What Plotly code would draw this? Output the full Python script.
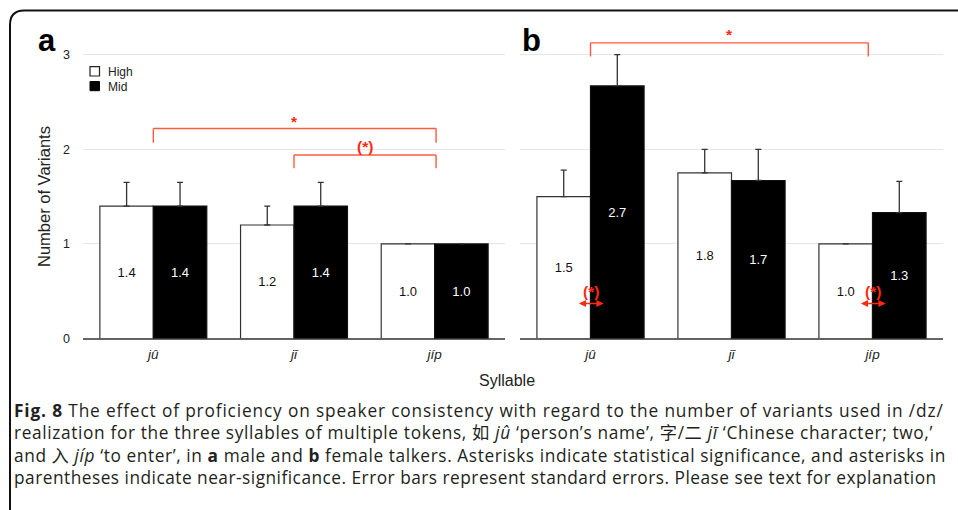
import plotly.graph_objects as go

W, H = 958, 510

# ---------------- data ----------------
syllables = ["jû", "jī", "jíp"]
syllable_labels = ["<i>jû</i>", "<i>jī</i>", "<i>jíp</i>"]
groups = ["High", "Mid"]

# panel a (male talkers)
a_high = [1.4, 1.2, 1.0]
a_mid = [1.4, 1.4, 1.0]
a_high_err = [0.25, 0.2, None]
a_mid_err = [0.25, 0.25, None]

# panel b (female talkers)
b_high = [1.5, 1.75, 1.0]
b_mid = [2.67, 1.67, 1.33]
b_high_err = [0.28, 0.25, None]
b_mid_err = [0.33, 0.33, 0.33]

y_ticks = [0, 1, 2, 3]

# significance brackets: (axis suffix, x_start, x_end, y_top, y_leg_bottom, label, label_y)
brackets = [
    ("", 0.0, 2.01, 2.22, 2.07, "*", 2.29),
    ("", 1.0, 2.01, 1.94, 1.80, "(*)", 2.03),
    ("2", 0.0, 1.97, 3.125, 2.98, "*", 3.21),
]
# within-syllable near-significance arrows in panel b: (category index, y)
pair_arrows = [(0, 0.37), (2, 0.37)]

caption_lines = [
    "<b>Fig. 8</b> The effect of proficiency on speaker consistency with regard to the number of variants used in /dz/",
    "realization for the three syllables of multiple tokens, 如 <i>jû</i> ‘person’s name’, 字/二 <i>jī</i> ‘Chinese character; two,’",
    "and 入 <i>jíp</i> ‘to enter’, in <b>a</b> male and <b>b</b> female talkers. Asterisks indicate statistical significance, and asterisks in",
    "parentheses indicate near-significance. Error bars represent standard errors. Please see text for explanation",
]
caption_letter_spacing = [0.85, 0.64, 0.59, 0.49]

# ---------------- helpers ----------------
def px(x):
    return x / W

def py(y):
    return 1 - y / H

FONT = "Liberation Sans, Arial, sans-serif"
TXT = "#222222"
RED_LINE = "#ff5a40"
RED_TXT = "#ff2a14"

y_bottom = 338.5
unit = 94.6
y_max = 3.15

def data_to_py(v):
    return py(y_bottom - v * unit)

fig = go.Figure()

def add_bars(xa, ya, high, mid, herr, merr):
    fig.add_trace(go.Bar(
        x=syllable_labels, y=high, name="High", xaxis=xa, yaxis=ya,
        marker=dict(color="white", line=dict(color="#333333", width=1.2)),
        error_y=dict(type="data", symmetric=False, array=herr,
                     arrayminus=[0] * len(herr), color="#333333", thickness=1.3, width=3),
        texttemplate="%{y:.1f}", textposition="inside", insidetextanchor="middle",
        textangle=0, constraintext="none",
        textfont=dict(color="#111111", size=13, family=FONT),
        showlegend=False, hoverinfo="skip",
    ))
    fig.add_trace(go.Bar(
        x=syllable_labels, y=mid, name="Mid", xaxis=xa, yaxis=ya,
        marker=dict(color="black", line=dict(color="#111111", width=1.2)),
        error_y=dict(type="data", symmetric=False, array=merr,
                     arrayminus=[0] * len(merr), color="#333333", thickness=1.3, width=3),
        texttemplate="%{y:.1f}", textposition="inside", insidetextanchor="middle",
        textangle=0, constraintext="none",
        textfont=dict(color="white", size=13, family=FONT),
        showlegend=False, hoverinfo="skip",
    ))

add_bars("x", "y", a_high, a_mid, a_high_err, a_mid_err)
add_bars("x2", "y2", b_high, b_mid, b_high_err, b_mid_err)

y_dom = [py(y_bottom), py(y_bottom - y_max * unit)]

common_y = dict(
    range=[0, y_max], tickvals=y_ticks, showgrid=True, gridcolor="#e6e6e6", gridwidth=1,
    zeroline=True, zerolinecolor="#666666", zerolinewidth=1.5, showline=False,
    ticks="", domain=y_dom, fixedrange=True, automargin=False,
    tickfont=dict(size=12.5, color=TXT, family=FONT),
)
common_x = dict(
    showgrid=False, zeroline=False, showline=False, ticks="",
    tickfont=dict(size=13.5, color=TXT, family=FONT), fixedrange=True,
    ticklabelstandoff=6, automargin=False,
)

fig.update_layout(
    width=W, height=H, margin=dict(l=0, r=0, t=0, b=0, pad=0, autoexpand=False),
    autosize=False,
    paper_bgcolor="white", plot_bgcolor="white",
    barmode="group", bargap=0.24, bargroupgap=0,
    font=dict(family=FONT, color=TXT),
    xaxis=dict(domain=[px(83), px(505)], anchor="y", **common_x),
    xaxis2=dict(domain=[px(520), px(943)], anchor="y2", **common_x),
    yaxis=dict(anchor="x", showticklabels=True, ticklabelstandoff=12, **common_y),
    yaxis2=dict(anchor="x2", showticklabels=False, **common_y),
)

shapes = []
annotations = []

# outer rounded frame
frame_path = (
    f"M {px(10)},{py(540)} L {px(10)},{py(25)} "
    f"Q {px(10)},{py(10.5)} {px(24)},{py(10.5)} L {px(980)},{py(10.5)}"
)
shapes.append(dict(type="path", path=frame_path, xref="paper", yref="paper",
                   line=dict(color="#111111", width=2)))

# brackets
for sfx, x0, x1, ytop, ybot, lab, laby in brackets:
    xr, yr = "x" + sfx, "y" + sfx
    for (xa0, ya0, xa1, ya1) in [(x0, ybot, x0, ytop), (x0, ytop, x1, ytop), (x1, ytop, x1, ybot)]:
        shapes.append(dict(type="line", xref=xr, yref=yr, x0=xa0, y0=ya0, x1=xa1, y1=ya1,
                           line=dict(color=RED_LINE, width=1.4), layer="above"))
    annotations.append(dict(xref=xr, yref="paper", x=(x0 + x1) / 2, y=data_to_py(laby),
                            xanchor="center", yanchor="middle",
                            text=f"<b>{lab}</b>", showarrow=False,
                            font=dict(color=RED_TXT, size=15.5, family=FONT)))

# double arrows in panel b
for idx, yv in pair_arrows:
    annotations.append(dict(xref="x2", yref="y2", x=idx + 0.093, y=yv,
                            axref="x2", ayref="y2", ax=idx - 0.093, ay=yv,
                            showarrow=True, arrowside="end+start", arrowhead=2,
                            arrowsize=0.9, arrowwidth=1.6, arrowcolor=RED_TXT,
                            standoff=0, startstandoff=0, text=""))
    annotations.append(dict(xref="x2", yref="y2", x=idx, y=yv + 0.13, text="<b>(*)</b>",
                            xanchor="center", yanchor="middle",
                            showarrow=False, font=dict(color=RED_TXT, size=15.5, family=FONT)))

# legend (manual)
shapes.append(dict(type="rect", xref="paper", yref="paper", x0=px(90), x1=px(99.5),
                   y0=py(76), y1=py(66.7), fillcolor="white",
                   line=dict(color="#222222", width=1.2)))
shapes.append(dict(type="rect", xref="paper", yref="paper", x0=px(90), x1=px(99.5),
                   y0=py(90.7), y1=py(81.5), fillcolor="black",
                   line=dict(color="black", width=1)))
annotations.append(dict(xref="paper", yref="paper", x=px(106), y=py(71.7), text="High",
                        xanchor="left", yanchor="middle", showarrow=False,
                        font=dict(size=12, color=TXT, family=FONT)))
annotations.append(dict(xref="paper", yref="paper", x=px(106), y=py(86.5), text="Mid",
                        xanchor="left", yanchor="middle", showarrow=False,
                        font=dict(size=12, color=TXT, family=FONT)))

# panel letters
annotations.append(dict(xref="paper", yref="paper", x=px(36), y=py(52), text="<b>a</b>",
                        xanchor="left", yanchor="bottom", showarrow=False, yshift=-8,
                        font=dict(size=31, color="black", family=FONT)))
annotations.append(dict(xref="paper", yref="paper", x=px(520), y=py(52), text="<b>b</b>",
                        xanchor="left", yanchor="bottom", showarrow=False, yshift=-8,
                        font=dict(size=31, color="black", family=FONT)))

# axis titles
annotations.append(dict(xref="paper", yref="paper", x=px(44), y=py(197),
                        text="Number of Variants", textangle=-90, showarrow=False,
                        xanchor="center", yanchor="middle",
                        font=dict(size=16.5, color=TXT, family=FONT)))
annotations.append(dict(xref="paper", yref="paper", x=px(507), y=py(380),
                        text="Syllable", showarrow=False, xanchor="center", yanchor="middle",
                        font=dict(size=16, color=TXT, family=FONT)))

# caption (single multi-line text block)
CAP_FONT = "Open Sans, Noto Sans CJK SC, sans-serif"
caption_text = "<br>".join(
    f'<span style="letter-spacing:{ls}px">{t}</span>'
    for t, ls in zip(caption_lines, caption_letter_spacing)
)
annotations.append(dict(xref="paper", yref="paper", x=px(13), y=py(444),
                        text=caption_text, showarrow=False, xanchor="left", yanchor="middle",
                        align="left", borderpad=0,
                        font=dict(size=17.3, color="#231f20", family=CAP_FONT)))

fig.update_layout(shapes=shapes, annotations=annotations)

fig.write_html("out.html")
